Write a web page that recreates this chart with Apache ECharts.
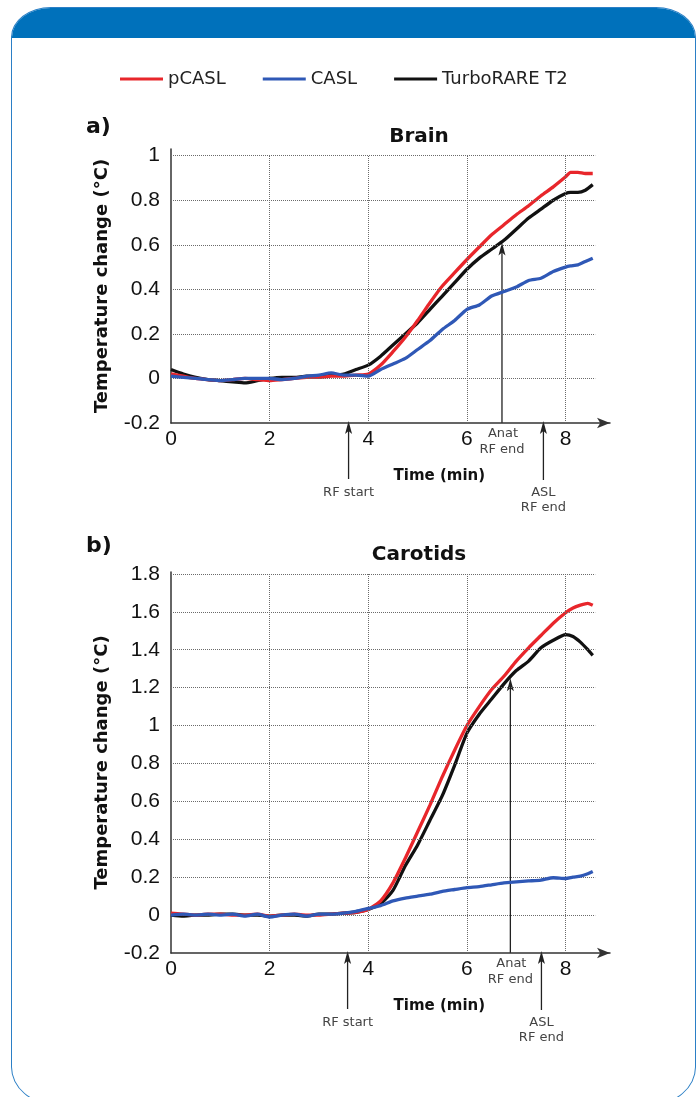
<!DOCTYPE html>
<html>
<head>
<meta charset="utf-8">
<script src="https://cdn.jsdelivr.net/npm/echarts@6/dist/echarts.min.js"></script>
<style>
  body { margin: 0; width: 697px; height: 1097px; overflow: hidden; background: #fff; position: relative; }
  #frame {
    position: absolute; left: 11px; top: 7px; width: 685px; height: 1098px;
    border: 1.5px solid #2b7fc6; box-sizing: border-box; overflow: hidden;
    border-radius: 40px 40px 45px 45px / 30px 30px 38px 38px;
  }
  #band { height: 30px; background: #0071bb; }
  #chart { position: absolute; left: 0; top: 0; width: 697px; height: 1097px; }
</style>
</head>
<body>
<div id="frame"><div id="band"></div></div>
<div id="chart"></div>
<script>
// time axis (min) and temperature change (°C)
const brainTime = [0, 0.25, 0.5, 0.75, 1, 1.25, 1.5, 1.75, 2, 2.25, 2.5, 2.75, 3, 3.25, 3.5, 3.75, 4, 4.25, 4.5, 4.75, 5, 5.25, 5.5, 5.75, 6, 6.25, 6.5, 6.75, 7, 7.25, 7.5, 7.75, 8, 8.1, 8.25, 8.4, 8.55];
const brainPcasl = [0.02, 0.01, 0, -0.005, -0.01, -0.005, 0, -0.005, -0.01, -0.005, 0, 0.005, 0.005, 0.01, 0.01, 0.015, 0.02, 0.06, 0.12, 0.185, 0.26, 0.34, 0.415, 0.475, 0.534, 0.59, 0.645, 0.69, 0.735, 0.775, 0.82, 0.86, 0.905, 0.925, 0.925, 0.92, 0.92];
const brainCasl = [0.01, 0.005, 0, -0.005, -0.01, -0.005, 0, 0, 0, -0.005, 0, 0.01, 0.015, 0.025, 0.015, 0.015, 0.01, 0.04, 0.065, 0.09, 0.13, 0.17, 0.22, 0.26, 0.31, 0.33, 0.37, 0.39, 0.41, 0.44, 0.45, 0.48, 0.5, 0.505, 0.51, 0.525, 0.54];
const brainTurbo = [0.04, 0.02, 0.005, -0.005, -0.01, -0.015, -0.02, -0.01, 0, 0.005, 0.005, 0.01, 0.01, 0.015, 0.02, 0.04, 0.06, 0.1, 0.15, 0.2, 0.25, 0.31, 0.37, 0.43, 0.49, 0.54, 0.58, 0.62, 0.67, 0.72, 0.76, 0.8, 0.83, 0.835, 0.835, 0.845, 0.87];

const carotidTime = [0, 0.25, 0.5, 0.75, 1, 1.25, 1.5, 1.75, 2, 2.25, 2.5, 2.75, 3, 3.25, 3.5, 3.75, 4, 4.25, 4.5, 4.75, 5, 5.25, 5.5, 5.75, 6, 6.25, 6.5, 6.75, 7, 7.25, 7.5, 7.75, 8, 8.15, 8.3, 8.45, 8.55];
const carotidPcasl = [0.01, 0.005, 0, 0.005, 0.005, 0, 0, 0.005, -0.005, 0, 0.005, 0, 0, 0.005, 0.01, 0.015, 0.03, 0.075, 0.17, 0.3, 0.44, 0.58, 0.73, 0.87, 1.0, 1.1, 1.19, 1.26, 1.34, 1.41, 1.475, 1.54, 1.595, 1.62, 1.635, 1.645, 1.635];
const carotidCasl = [0, 0.005, 0, 0.005, 0, 0.005, -0.005, 0.005, -0.01, 0, 0.005, -0.005, 0.005, 0.005, 0.01, 0.02, 0.035, 0.05, 0.075, 0.09, 0.1, 0.11, 0.125, 0.135, 0.145, 0.15, 0.16, 0.17, 0.175, 0.18, 0.185, 0.197, 0.193, 0.2, 0.205, 0.218, 0.23];
const carotidTurbo = [0, -0.005, 0, 0, 0.005, 0.005, 0, 0, -0.005, 0, 0, -0.005, 0.005, 0.005, 0.01, 0.015, 0.03, 0.06, 0.13, 0.26, 0.37, 0.5, 0.63, 0.79, 0.96, 1.06, 1.14, 1.22, 1.29, 1.34, 1.41, 1.45, 1.48, 1.47, 1.44, 1.4, 1.37];

const seriesNames = ['pCASL', 'CASL', 'TurboRARE T2'];
const panelTitles = ['Brain', 'Carotids'];
const panelLetters = ['a)', 'b)'];
const xGridTicks = [2, 4, 6, 8];
const brainYTicks = [0, 0.2, 0.4, 0.6, 0.8, 1];
const carotidYTicks = [0, 0.2, 0.4, 0.6, 0.8, 1, 1.2, 1.4, 1.6, 1.8];
// event markers (min) and where the "Anat RF end" arrow points (°C)
const rfStart = [3.6, 3.58];
const anatEnd = [6.71, 6.88];
const anatTip = [0.61, 1.25];
const aslEnd = [7.55, 7.51];

const colors = ['#e8262b', '#2f58b6', '#111111'];
const seriesZ = [4, 5, 3];
const panels = [
  { time: brainTime, values: [brainPcasl, brainCasl, brainTurbo], yTicks: brainYTicks, yMax: 1.03, top: 149, height: 274 },
  { time: carotidTime, values: [carotidPcasl, carotidCasl, carotidTurbo], yTicks: carotidYTicks, yMax: 1.81, top: 572, height: 381 }
];
const yMin = -0.2;
const xMax = 8.9;
const gridEnd = 8.6;

const chart = echarts.init(document.getElementById('chart'));

const grid = [], xAxis = [], yAxis = [], series = [];
panels.forEach(function (p, gi) {
  grid.push({ left: 171, top: p.top, width: 439, height: p.height, outerBoundsMode: 'none' });
  xAxis.push({
    gridIndex: gi, type: 'value', min: 0, max: xMax, interval: 2,
    axisLine: { show: true, onZero: false, symbol: ['none', 'arrow'], symbolSize: [8, 13],
      lineStyle: { color: '#333', width: 1.5 } },
    axisTick: { show: false },
    splitLine: { show: false },
    axisLabel: { fontSize: 21, fontFamily: 'Liberation Sans', color: '#111', margin: 6, showMaxLabel: false }
  });
  yAxis.push({
    gridIndex: gi, type: 'value', min: yMin, max: p.yMax, interval: 0.2,
    axisLine: { show: true, onZero: false, lineStyle: { color: '#333', width: 1.5 } },
    axisTick: { show: false },
    splitLine: { show: false },
    axisLabel: { fontSize: 21, fontFamily: 'Liberation Sans', color: '#111', margin: 11, showMaxLabel: false },
    name: 'Temperature change (°C)',
    nameLocation: 'middle',
    nameGap: 60,
    nameTextStyle: { fontSize: 18, fontWeight: 'bold', fontFamily: 'DejaVu Sans', color: '#111' }
  });

  // dotted grid lines
  const lines = [];
  p.yTicks.forEach(function (v) { lines.push([{ coord: [0, v] }, { coord: [gridEnd, v] }]); });
  const yTop = p.yTicks[p.yTicks.length - 1];
  xGridTicks.forEach(function (t) { lines.push([{ coord: [t, yMin] }, { coord: [t, yTop] }]); });
  series.push({
    type: 'line', xAxisIndex: gi, yAxisIndex: gi, data: [], silent: true, z: 1,
    markLine: {
      silent: true, symbol: 'none', animation: false, label: { show: false },
      lineStyle: { type: 'dotted', color: '#6a6a6a', width: 1 },
      emphasis: { disabled: true },
      data: lines
    }
  });

  seriesNames.forEach(function (name, si) {
    series.push({
      name: name, type: 'line', xAxisIndex: gi, yAxisIndex: gi, z: seriesZ[si],
      showSymbol: false, smooth: 0.2,
      lineStyle: { width: 3.3, color: colors[si] },
      itemStyle: { color: colors[si] },
      data: p.time.map(function (t, i) { return [t, p.values[si][i]]; })
    });
  });
});

chart.setOption({
  animation: false,
  legend: {
    data: seriesNames, left: 115, top: 65, icon: 'rect', itemWidth: 43, itemHeight: 3, itemGap: 37,
    textStyle: { fontSize: 18, fontFamily: 'DejaVu Sans', color: '#222' }
  },
  grid: grid, xAxis: xAxis, yAxis: yAxis, series: series
});

// annotations placed through the axes' own scales
const ink = '#222';
const noteFont = { fontSize: 13, fontFamily: 'DejaVu Sans', fill: '#444' };
function text(x, y, str, extra) {
  return { type: 'text', x: x, y: y, silent: true,
    style: Object.assign({ text: str, align: 'center', verticalAlign: 'middle' }, noteFont, extra || {}) };
}
function arrow(x, yBottom, yTip) {
  return [
    { type: 'line', silent: true, shape: { x1: x, y1: yBottom, x2: x, y2: yTip + 8 }, style: { stroke: ink, lineWidth: 1.3 } },
    { type: 'polygon', silent: true, shape: { points: [[x, yTip], [x - 3.5, yTip + 13], [x, yTip + 10], [x + 3.5, yTip + 13]] }, style: { fill: ink } }
  ];
}
const graphic = [];
panels.forEach(function (p, gi) {
  const px = function (x, y) { return chart.convertToPixel({ gridIndex: gi }, [x, y]); };
  const axisY = px(0, yMin)[1];

  graphic.push(text(86, p.top - 22 - gi * 4, panelLetters[gi],
    { align: 'left', fontSize: 22, fontWeight: 'bold', fontFamily: 'DejaVu Sans', fill: '#111' }));
  graphic.push(text(419, p.top - 12 - gi * 5, panelTitles[gi],
    { fontSize: 20, fontWeight: 'bold', fontFamily: 'DejaVu Sans', fill: '#111' }));
  graphic.push(text(px(5.44, yMin)[0], axisY + 53, 'Time (min)',
    { fontSize: 15, fontWeight: 'bold', fontFamily: 'DejaVu Sans', fill: '#111' }));

  const rx = px(rfStart[gi], yMin)[0];
  graphic.push.apply(graphic, arrow(rx, axisY + 56, axisY - 2));
  graphic.push(text(rx, axisY + 70, 'RF start'));

  const ax = px(anatEnd[gi], yMin)[0];
  graphic.push.apply(graphic, arrow(ax, axisY, px(anatEnd[gi], anatTip[gi])[1]));
  graphic.push(text(ax + 1, axisY + 11, 'Anat'));
  graphic.push(text(ax, axisY + 27, 'RF end'));

  const sx = px(aslEnd[gi], yMin)[0];
  graphic.push.apply(graphic, arrow(sx, axisY + 57, axisY - 2));
  graphic.push(text(sx, axisY + 70, 'ASL'));
  graphic.push(text(sx, axisY + 85, 'RF end'));
});
chart.setOption({ graphic: graphic });
</script>
</body>
</html>
